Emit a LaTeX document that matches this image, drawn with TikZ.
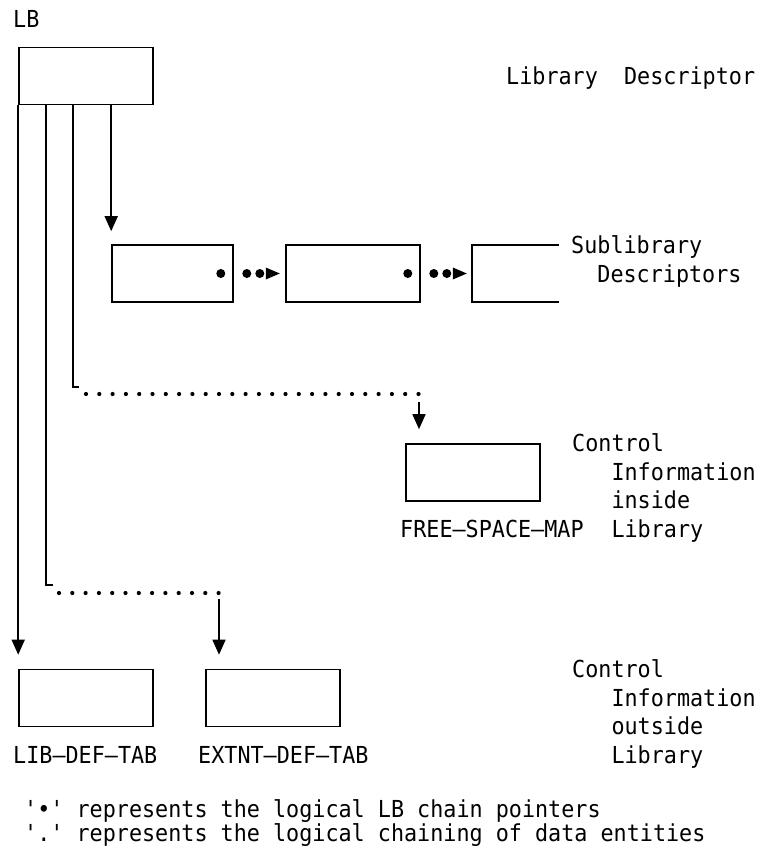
\documentclass[tikz,border=0pt]{standalone}
\usepackage{fontspec}
\setmonofont{DejaVu Sans Mono}[FakeStretch=0.93]
\usetikzlibrary{arrows.meta}

\tikzset{
  blk/.style={draw,line width=1.6pt,inner sep=0pt,minimum height=57pt},
  link/.style={line width=1.6pt},
  chaindots/.style={line width=4.2pt,line cap=round,dash pattern=on 0pt off 13.3pt},
  lbl/.style={anchor=base west,inner sep=0pt,align=left,
    font=\ttfamily\fontsize{23.4}{28.5}\selectfont},
}

\begin{document}
\begin{tikzpicture}[x=1pt,y=-1pt,>={Stealth[length=15pt,width=13pt,inset=0pt]}]
  \useasboundingbox (0,0) rectangle (763,853);

  % descriptor blocks
  \node[blk,minimum width=134pt] (lb) at (86,76) {};
  \node[blk,minimum width=121pt] (sub1) at (172.5,273.5) {};
  \node[blk,minimum width=134pt] (sub2) at (353,273.5) {};
  \node[inner sep=0pt,minimum width=87pt,minimum height=57pt] (sub3) at (515.5,273.5) {};
  \draw[link] (sub3.north east) -- (sub3.north west) -- (sub3.south west) -- (sub3.south east);
  \node[blk,minimum width=134pt] (fsm) at (473,472.5) {};
  \node[blk,minimum width=134pt] (ldt) at (86,698) {};
  \node[blk,minimum width=134pt] (edt) at (273,698) {};

  % LB chain pointers
  \foreach \a in {sub1,sub2}{
    \fill ([xshift=-13pt]\a.east) circle (4.5pt);
    \fill ([xshift=13pt]\a.east) circle (4.5pt);
    \fill ([xshift=26pt]\a.east) circle (4.5pt);
    \fill ([xshift=32pt,yshift=6pt]\a.east) -- ([xshift=46pt]\a.east)
      -- ([xshift=32pt,yshift=-6pt]\a.east) -- cycle;
  }

  % pointers out of LB
  \coordinate (c2) at (46,585);
  \coordinate (c3) at (73,387);
  \coordinate (e2) at (59,593);
  \coordinate (d2) at (219,593);
  \coordinate (e3) at (86,394);
  \coordinate (d3) at (419,394);

  \draw[link,->,shorten >=14pt] (lb.south west) -- (ldt.north west);
  \draw[link,->,shorten >=13pt] (lb.south -| sub1.north west) -- (sub1.north west);
  \draw[link] (lb.south west -| c3) -- (c3) -- ++(6,0);
  \draw[link] (lb.south west -| c2) -- (c2) -- ++(7,0);
  \draw[chaindots] (e3) -- (d3);
  \draw[chaindots] (e2) -- (d2);
  \draw[link,->,shorten <=8pt,shorten >=14pt] (d3) -- (d3 |- fsm.north);
  \draw[link,->,shorten <=6pt,shorten >=14pt] (d2) -- (d2 |- edt.north);

  % labels (base = last line)
  \node[lbl] (lbname) at (13,28) {LB};
  \node[lbl] (lbdesc) at (506,85) {Library\hphantom{xx}Descriptor};
  \node[lbl] (subdesc) at (571,282) {Sublibrary\\\hphantom{Su}Descriptors};
  \node[lbl] (insidetxt) at (572,537)
    {Control\\\hphantom{Con}Information\\\hphantom{Con}inside\\\hphantom{Con}Library};
  \node[lbl] (fsmname) at (400,537) {FREE—SPACE—MAP};
  \node[lbl] (outsidetxt) at (572,763)
    {Control\\\hphantom{Con}Information\\\hphantom{Con}outside\\\hphantom{Con}Library};
  \node[lbl] (ldtname) at (13,763) {LIB—DEF—TAB};
  \node[lbl] (edtname) at (198,763) {EXTNT—DEF—TAB};
  \node[lbl,font=\ttfamily\fontsize{23.4}{24}\selectfont] (legend) at (24,841)
    {'•' represents the logical LB chain pointers\\'.' represents the logical chaining of data entities};
\end{tikzpicture}
\end{document}
